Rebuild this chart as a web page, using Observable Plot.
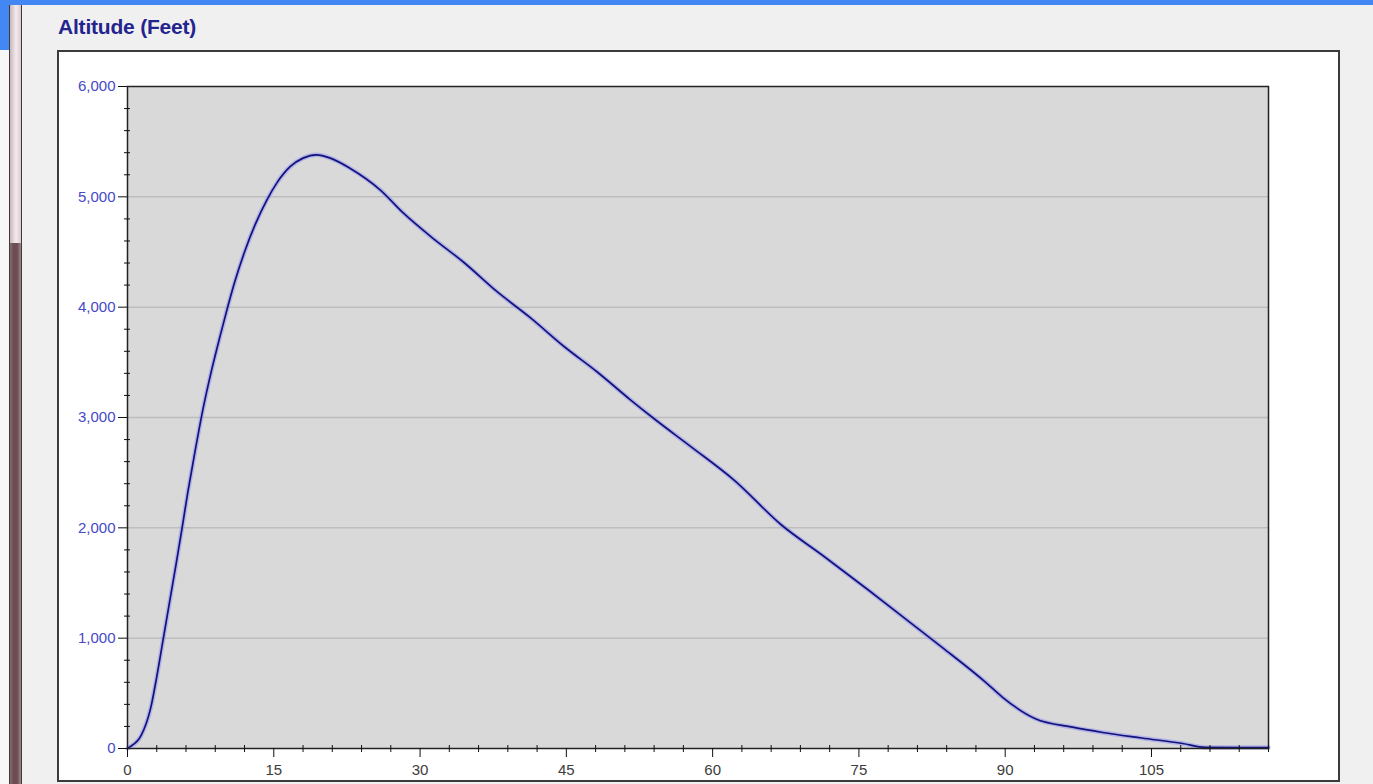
<!DOCTYPE html>
<html><head><meta charset="utf-8">
<script src="https://cdn.jsdelivr.net/npm/d3@7"></script>
<script src="https://cdn.jsdelivr.net/npm/@observablehq/plot@0.6"></script>
<style>
body{margin:0;width:1373px;height:784px;overflow:hidden;background:#f0f0f0;position:relative;font-family:"Liberation Sans",Arial,sans-serif}
.abs{position:absolute}
#chart{position:absolute;left:0;top:0}
</style></head><body>
<div class="abs" style="left:0;top:0;width:1373px;height:5px;background:#4287f3"></div>
<div class="abs" style="left:0;top:0;width:9px;height:50px;background:#4287f3"></div>
<div class="abs" style="left:0;top:50px;width:9px;height:734px;background:#f7f7f7"></div>
<div class="abs" style="left:9px;top:5px;width:1px;height:779px;background:#3a3a3a"></div>
<div class="abs" style="left:10px;top:5px;width:11px;height:238px;background:linear-gradient(to right,#c9b6ba,#f3ecee 55%,#d9cacd)"></div>
<div class="abs" style="left:10px;top:243px;width:11px;height:541px;background:linear-gradient(to right,#8c6d73,#6b4d53 30%,#6b4d53 65%,#a3868b)"></div>
<div class="abs" style="left:21px;top:5px;width:1px;height:779px;background:#3a3a3a"></div>
<div class="abs" style="left:58px;top:16px;font-weight:bold;font-size:21px;line-height:21px;color:#24248e;letter-spacing:-0.2px">Altitude (Feet)</div>
<div class="abs" style="left:57px;top:50px;width:1279px;height:728px;background:#fff;border:2px solid #3a3a3a"></div>
<div id="chart"></div>
<script>
// Flight time (seconds) and altitude (feet)
const timeSec = [0, 0.2, 1.4, 2.4, 3.0, 3.6, 4.3, 5.0, 5.6, 6.2, 6.9, 7.75, 8.6, 9.5, 10.3, 11.0, 12.0, 13.1, 14.3, 15.3, 16.7, 18.0, 19.4, 20.8, 22.8, 25.9, 28.3, 31.1, 34.5, 37.9, 41.3, 44.8, 48.2, 51.6, 54.2, 57.8, 62.2, 67.0, 71.5, 76.0, 80.4, 83.5, 88.0, 89.7, 93.1, 96.9, 100, 104, 108.2, 110.5, 117];
const altitudeFt = [0, 12, 118, 375, 650, 960, 1320, 1680, 2000, 2330, 2680, 3080, 3420, 3740, 4010, 4230, 4500, 4750, 4973, 5124, 5275, 5351, 5381, 5351, 5260, 5064, 4852, 4640, 4405, 4140, 3905, 3641, 3410, 3158, 2975, 2734, 2432, 2030, 1736, 1434, 1132, 919, 600, 466, 269, 193, 145, 95, 45, 10, 8];
const xMajorTicks = [0, 15, 30, 45, 60, 75, 90, 105];
const xMinorTicks = d3.range(0, 118, 3).filter(v => v % 15 !== 0);
const yMajorTicks = [0, 1000, 2000, 3000, 4000, 5000, 6000];
const yMinorTicks = d3.range(0, 6001, 200).filter(v => v % 1000 !== 0);

const data = timeSec.map((t, i) => ({t, alt: altitudeFt[i]}));

const chart = Plot.plot({
  width: 1373,
  height: 784,
  marginLeft: 127,
  marginRight: 105,
  marginTop: 86,
  marginBottom: 36,
  style: {background: "transparent", fontFamily: "Liberation Sans, Arial, sans-serif", fontSize: "15px"},
  x: {domain: [0, 117], label: null},
  y: {domain: [0, 6000], label: null},
  marks: [
    Plot.frame({fill: "#d9d9d9"}),
    Plot.ruleY(yMajorTicks.slice(1, -1), {stroke: "#bdbdbd", strokeWidth: 1.5}),
    Plot.line(data, {x: "t", y: "alt", curve: "monotone-x", stroke: "#8d8df2", strokeWidth: 4.5, strokeOpacity: 0.5}),
    Plot.line(data, {x: "t", y: "alt", curve: "monotone-x", stroke: "#12127e", strokeWidth: 1.7}),
    Plot.frame({stroke: "#222", strokeWidth: 1.5}),
    Plot.axisY({ticks: yMajorTicks, tickSize: 9, tickPadding: 3, tickFormat: d3.format(","), fill: "#4848c6", stroke: "#111", label: null}),
    Plot.axisY({ticks: yMinorTicks, tickSize: 6, dx: 3, tickFormat: () => "", stroke: "#111", label: null}),
    Plot.axisX({ticks: xMajorTicks, tickSize: 9, tickPadding: 7, fill: "#3c3c3c", stroke: "#111", label: null}),
    Plot.axisX({ticks: xMinorTicks, tickSize: 7, dy: -3, tickFormat: () => "", stroke: "#111", label: null})
  ]
});
document.getElementById("chart").appendChild(chart);
</script>
</body></html>
